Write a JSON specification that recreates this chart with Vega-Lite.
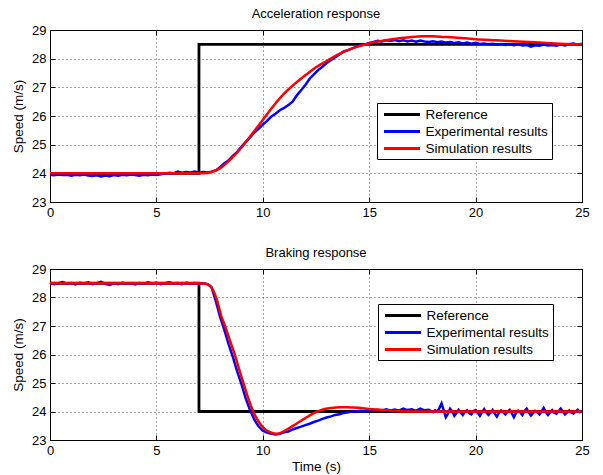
{
  "$schema": "https://vega.github.io/schema/vega-lite/v6.json",
  "background": "white",
  "padding": {"left": 11, "right": 5, "top": 7, "bottom": 2},
  "spacing": 26,
  "datasets": {
    "accRef": [{"i":0,"t":0,"v":24},{"i":1,"t":7,"v":24},{"i":2,"t":7,"v":28.5},{"i":3,"t":25,"v":28.5}],
    "brkRef": [{"i":0,"t":0,"v":28.5},{"i":1,"t":7,"v":28.5},{"i":2,"t":7,"v":24},{"i":3,"t":25,"v":24}],
    "accSim": [{"t":0,"v":24},{"t":7,"v":24},{"t":7.25,"v":24.005},{"t":7.5,"v":24.03},{"t":8,"v":24.18},{"t":8.5,"v":24.5},{"t":9,"v":24.9},{"t":9.5,"v":25.38},{"t":10,"v":25.86},{"t":10.5,"v":26.35},{"t":11,"v":26.78},{"t":11.5,"v":27.12},{"t":12,"v":27.42},{"t":12.5,"v":27.7},{"t":13,"v":27.92},{"t":13.5,"v":28.13},{"t":14,"v":28.3},{"t":14.5,"v":28.43},{"t":15,"v":28.53},{"t":15.5,"v":28.61},{"t":16,"v":28.67},{"t":16.5,"v":28.72},{"t":17,"v":28.76},{"t":17.5,"v":28.78},{"t":18,"v":28.78},{"t":18.5,"v":28.76},{"t":19,"v":28.74},{"t":19.5,"v":28.71},{"t":20,"v":28.68},{"t":21,"v":28.64},{"t":22,"v":28.6},{"t":23,"v":28.56},{"t":24,"v":28.52},{"t":25,"v":28.5}],
    "brkSim": [{"t":0,"v":28.5},{"t":7,"v":28.5},{"t":7.25,"v":28.49},{"t":7.5,"v":28.43},{"t":7.7,"v":28.2},{"t":7.85,"v":27.9},{"t":8.05,"v":27.35},{"t":8.25,"v":26.95},{"t":8.45,"v":26.5},{"t":8.7,"v":25.96},{"t":8.9,"v":25.45},{"t":9.1,"v":24.98},{"t":9.3,"v":24.5},{"t":9.55,"v":24.0},{"t":9.8,"v":23.65},{"t":10.1,"v":23.38},{"t":10.4,"v":23.26},{"t":10.65,"v":23.22},{"t":10.9,"v":23.27},{"t":11.1,"v":23.35},{"t":11.6,"v":23.58},{"t":12,"v":23.77},{"t":12.4,"v":23.94},{"t":12.8,"v":24.06},{"t":13.2,"v":24.12},{"t":13.6,"v":24.15},{"t":14,"v":24.15},{"t":14.5,"v":24.13},{"t":15,"v":24.09},{"t":15.5,"v":24.06},{"t":16,"v":24.03},{"t":16.5,"v":24.01},{"t":17,"v":24.0},{"t":25,"v":24.0}],
    "accExp": [{"t":0.0,"v":23.95},{"t":0.2,"v":23.93},{"t":0.4,"v":23.96},{"t":0.6,"v":23.94},{"t":0.8,"v":23.95},{"t":1.0,"v":23.92},{"t":1.2,"v":23.95},{"t":1.4,"v":23.93},{"t":1.6,"v":23.96},{"t":1.8,"v":23.92},{"t":2.0,"v":23.91},{"t":2.2,"v":23.93},{"t":2.4,"v":23.89},{"t":2.6,"v":23.92},{"t":2.8,"v":23.9},{"t":3.0,"v":23.94},{"t":3.2,"v":23.92},{"t":3.4,"v":23.95},{"t":3.6,"v":23.93},{"t":3.8,"v":23.96},{"t":4.0,"v":23.94},{"t":4.2,"v":23.92},{"t":4.4,"v":23.95},{"t":4.6,"v":23.93},{"t":4.8,"v":23.96},{"t":5.0,"v":23.94},{"t":5.2,"v":23.97},{"t":5.4,"v":23.99},{"t":5.6,"v":24.02},{"t":5.8,"v":24.0},{"t":6.0,"v":24.06},{"t":6.2,"v":24.02},{"t":6.4,"v":24.05},{"t":6.6,"v":24.03},{"t":6.8,"v":24.06},{"t":7.0,"v":24.02},{"t":7.2,"v":24.05},{"t":7.4,"v":24.03},{"t":7.6,"v":24.06},{"t":7.8,"v":24.1},{"t":8.0,"v":24.22},{"t":8.2,"v":24.35},{"t":8.4,"v":24.46},{"t":8.6,"v":24.62},{"t":8.8,"v":24.75},{"t":9.0,"v":24.93},{"t":9.2,"v":25.1},{"t":9.4,"v":25.25},{"t":9.6,"v":25.42},{"t":9.8,"v":25.55},{"t":10.0,"v":25.7},{"t":10.2,"v":25.83},{"t":10.4,"v":25.98},{"t":10.6,"v":26.08},{"t":10.8,"v":26.2},{"t":11.0,"v":26.28},{"t":11.2,"v":26.38},{"t":11.4,"v":26.5},{"t":11.6,"v":26.72},{"t":11.8,"v":26.9},{"t":12.0,"v":27.08},{"t":12.2,"v":27.3},{"t":12.4,"v":27.45},{"t":12.6,"v":27.6},{"t":12.8,"v":27.72},{"t":13.0,"v":27.85},{"t":13.2,"v":27.95},{"t":13.4,"v":28.05},{"t":13.6,"v":28.15},{"t":13.8,"v":28.25},{"t":14.0,"v":28.3},{"t":14.2,"v":28.36},{"t":14.4,"v":28.42},{"t":14.6,"v":28.47},{"t":14.8,"v":28.5},{"t":15.0,"v":28.55},{"t":15.2,"v":28.58},{"t":15.4,"v":28.62},{"t":15.6,"v":28.6},{"t":15.8,"v":28.64},{"t":16.0,"v":28.62},{"t":16.2,"v":28.65},{"t":16.4,"v":28.61},{"t":16.6,"v":28.64},{"t":16.8,"v":28.6},{"t":17.0,"v":28.63},{"t":17.2,"v":28.59},{"t":17.4,"v":28.63},{"t":17.6,"v":28.6},{"t":17.8,"v":28.58},{"t":18.0,"v":28.61},{"t":18.2,"v":28.57},{"t":18.4,"v":28.6},{"t":18.6,"v":28.56},{"t":18.8,"v":28.58},{"t":19.0,"v":28.55},{"t":19.2,"v":28.57},{"t":19.4,"v":28.53},{"t":19.6,"v":28.56},{"t":19.8,"v":28.52},{"t":20.0,"v":28.55},{"t":20.2,"v":28.51},{"t":20.4,"v":28.53},{"t":20.6,"v":28.5},{"t":20.8,"v":28.52},{"t":21.0,"v":28.49},{"t":21.2,"v":28.51},{"t":21.4,"v":28.48},{"t":21.6,"v":28.5},{"t":21.8,"v":28.47},{"t":22.0,"v":28.5},{"t":22.2,"v":28.46},{"t":22.4,"v":28.48},{"t":22.6,"v":28.42},{"t":22.8,"v":28.47},{"t":23.0,"v":28.45},{"t":23.2,"v":28.49},{"t":23.4,"v":28.46},{"t":23.6,"v":28.48},{"t":23.8,"v":28.45},{"t":24.0,"v":28.49},{"t":24.2,"v":28.46},{"t":24.4,"v":28.5},{"t":24.6,"v":28.53},{"t":24.8,"v":28.49},{"t":25.0,"v":28.52}],
    "brkExp": [{"t":0.0,"v":28.52},{"t":0.2,"v":28.47},{"t":0.4,"v":28.5},{"t":0.6,"v":28.54},{"t":0.8,"v":28.48},{"t":1.0,"v":28.51},{"t":1.2,"v":28.46},{"t":1.4,"v":28.52},{"t":1.6,"v":28.49},{"t":1.8,"v":28.53},{"t":2.0,"v":28.47},{"t":2.2,"v":28.5},{"t":2.4,"v":28.55},{"t":2.6,"v":28.48},{"t":2.8,"v":28.44},{"t":3.0,"v":28.5},{"t":3.2,"v":28.47},{"t":3.4,"v":28.52},{"t":3.6,"v":28.48},{"t":3.8,"v":28.5},{"t":4.0,"v":28.46},{"t":4.2,"v":28.51},{"t":4.4,"v":28.48},{"t":4.6,"v":28.53},{"t":4.8,"v":28.49},{"t":5.0,"v":28.52},{"t":5.2,"v":28.47},{"t":5.4,"v":28.5},{"t":5.6,"v":28.53},{"t":5.8,"v":28.49},{"t":6.0,"v":28.51},{"t":6.2,"v":28.47},{"t":6.4,"v":28.52},{"t":6.6,"v":28.49},{"t":6.8,"v":28.51},{"t":7.0,"v":28.48},{"t":7.2,"v":28.5},{"t":7.4,"v":28.47},{"t":7.6,"v":28.35},{"t":7.8,"v":27.85},{"t":8.0,"v":27.3},{"t":8.2,"v":26.85},{"t":8.4,"v":26.35},{"t":8.6,"v":25.9},{"t":8.8,"v":25.4},{"t":9.0,"v":24.95},{"t":9.2,"v":24.45},{"t":9.4,"v":24.05},{"t":9.6,"v":23.72},{"t":9.8,"v":23.48},{"t":10.0,"v":23.33},{"t":10.2,"v":23.26},{"t":10.4,"v":23.22},{"t":10.6,"v":23.19},{"t":10.8,"v":23.22},{"t":11.0,"v":23.27},{"t":11.2,"v":23.3},{"t":11.4,"v":23.37},{"t":11.6,"v":23.42},{"t":11.8,"v":23.47},{"t":12.0,"v":23.52},{"t":12.2,"v":23.57},{"t":12.4,"v":23.63},{"t":12.6,"v":23.68},{"t":12.8,"v":23.74},{"t":13.0,"v":23.79},{"t":13.2,"v":23.83},{"t":13.4,"v":23.88},{"t":13.6,"v":23.9},{"t":13.8,"v":23.95},{"t":14.0,"v":23.97},{"t":14.2,"v":24.0},{"t":14.4,"v":24.01},{"t":14.6,"v":24.03},{"t":14.8,"v":24.0},{"t":15.0,"v":24.04},{"t":15.2,"v":24.02},{"t":15.4,"v":24.06},{"t":15.6,"v":24.03},{"t":15.8,"v":24.08},{"t":16.0,"v":24.04},{"t":16.2,"v":24.07},{"t":16.4,"v":24.03},{"t":16.6,"v":24.1},{"t":16.8,"v":24.05},{"t":17.0,"v":24.08},{"t":17.2,"v":24.02},{"t":17.4,"v":24.1},{"t":17.6,"v":24.04},{"t":17.8,"v":24.06},{"t":18.0,"v":23.98},{"t":18.1,"v":24.04},{"t":18.2,"v":24.0},{"t":18.3,"v":24.12},{"t":18.4,"v":24.28},{"t":18.5,"v":24.05},{"t":18.6,"v":23.8},{"t":18.7,"v":23.92},{"t":18.8,"v":24.1},{"t":18.9,"v":24.0},{"t":19.0,"v":23.85},{"t":19.1,"v":23.95},{"t":19.2,"v":24.06},{"t":19.3,"v":23.96},{"t":19.4,"v":23.88},{"t":19.5,"v":24.0},{"t":19.6,"v":24.04},{"t":19.7,"v":23.94},{"t":19.8,"v":23.9},{"t":19.9,"v":24.02},{"t":20.0,"v":24.05},{"t":20.1,"v":23.96},{"t":20.2,"v":23.85},{"t":20.3,"v":23.98},{"t":20.4,"v":24.08},{"t":20.5,"v":23.97},{"t":20.6,"v":23.88},{"t":20.7,"v":23.95},{"t":20.8,"v":24.05},{"t":20.9,"v":23.93},{"t":21.0,"v":23.82},{"t":21.1,"v":23.96},{"t":21.2,"v":24.04},{"t":21.3,"v":23.98},{"t":21.4,"v":23.9},{"t":21.5,"v":24.0},{"t":21.6,"v":24.06},{"t":21.7,"v":23.94},{"t":21.8,"v":23.8},{"t":21.9,"v":23.95},{"t":22.0,"v":24.03},{"t":22.1,"v":23.97},{"t":22.2,"v":23.88},{"t":22.3,"v":24.02},{"t":22.4,"v":24.1},{"t":22.5,"v":23.96},{"t":22.6,"v":23.86},{"t":22.7,"v":23.94},{"t":22.8,"v":24.02},{"t":22.9,"v":23.97},{"t":23.0,"v":23.9},{"t":23.1,"v":24.0},{"t":23.2,"v":24.12},{"t":23.3,"v":23.98},{"t":23.4,"v":23.88},{"t":23.5,"v":23.97},{"t":23.6,"v":24.05},{"t":23.7,"v":23.96},{"t":23.8,"v":23.92},{"t":23.9,"v":24.01},{"t":24.0,"v":24.1},{"t":24.1,"v":23.99},{"t":24.2,"v":23.9},{"t":24.3,"v":23.97},{"t":24.4,"v":24.04},{"t":24.5,"v":23.97},{"t":24.6,"v":23.93},{"t":24.7,"v":24.0},{"t":24.8,"v":24.06},{"t":24.9,"v":23.98},{"t":25.0,"v":24.0}]
  },
  "vconcat": [
    {
      "width": 532,
      "height": 172,
      "title": {"text": "Acceleration response"},
      "layer": [
        {
          "data": {"name": "accRef"},
          "mark": {"type": "line", "strokeWidth": 2.8},
          "encoding": {
            "x": {"field": "t", "type": "quantitative", "scale": {"domain": [0, 25], "nice": false}, "axis": {"orient": "bottom", "values": [0, 5, 10, 15, 20, 25], "grid": true, "title": null}},
            "y": {"field": "v", "type": "quantitative", "scale": {"domain": [23, 29], "nice": false, "zero": false}, "axis": {"orient": "left", "values": [23, 24, 25, 26, 27, 28, 29], "grid": true, "title": "Speed (m/s)"}},
            "order": {"field": "i", "type": "quantitative"},
            "color": {"datum": "Reference", "type": "nominal", "scale": {"domain": ["Reference", "Experimental results", "Simulation results"], "range": ["#000000", "#0000ff", "#ff0000"]}, "legend": {"legendX": 327, "legendY": 73}}
          }
        },
        {
          "data": {"name": "accExp"},
          "mark": {"type": "line", "strokeWidth": 2.5},
          "encoding": {
            "x": {"field": "t", "type": "quantitative", "axis": null},
            "y": {"field": "v", "type": "quantitative", "axis": null},
            "color": {"datum": "Experimental results", "type": "nominal"}
          }
        },
        {
          "data": {"name": "accSim"},
          "mark": {"type": "line", "strokeWidth": 2.5, "interpolate": "monotone"},
          "encoding": {
            "x": {"field": "t", "type": "quantitative", "axis": {"orient": "top", "values": [0, 5, 10, 15, 20, 25], "labels": false, "grid": false, "title": null}},
            "y": {"field": "v", "type": "quantitative", "axis": {"orient": "right", "values": [23, 24, 25, 26, 27, 28, 29], "labels": false, "grid": false, "title": null}},
            "color": {"datum": "Simulation results", "type": "nominal"}
          }
        }
      ],
      "resolve": {"axis": {"x": "independent", "y": "independent"}}
    },
    {
      "width": 532,
      "height": 171,
      "title": {"text": "Braking response"},
      "layer": [
        {
          "data": {"name": "brkRef"},
          "mark": {"type": "line", "strokeWidth": 2.8},
          "encoding": {
            "x": {"field": "t", "type": "quantitative", "scale": {"domain": [0, 25], "nice": false}, "axis": {"orient": "bottom", "values": [0, 5, 10, 15, 20, 25], "grid": true, "title": "Time (s)", "titlePadding": 2}},
            "y": {"field": "v", "type": "quantitative", "scale": {"domain": [23, 29], "nice": false, "zero": false}, "axis": {"orient": "left", "values": [23, 24, 25, 26, 27, 28, 29], "grid": true, "title": "Speed (m/s)"}},
            "order": {"field": "i", "type": "quantitative"},
            "color": {"datum": "Reference", "type": "nominal", "scale": {"domain": ["Reference", "Experimental results", "Simulation results"], "range": ["#000000", "#0000ff", "#ff0000"]}, "legend": {"legendX": 328, "legendY": 35}}
          }
        },
        {
          "data": {"name": "brkExp"},
          "mark": {"type": "line", "strokeWidth": 2.5},
          "encoding": {
            "x": {"field": "t", "type": "quantitative", "axis": null},
            "y": {"field": "v", "type": "quantitative", "axis": null},
            "color": {"datum": "Experimental results", "type": "nominal"}
          }
        },
        {
          "data": {"name": "brkSim"},
          "mark": {"type": "line", "strokeWidth": 2.5, "interpolate": "monotone"},
          "encoding": {
            "x": {"field": "t", "type": "quantitative", "axis": {"orient": "top", "values": [0, 5, 10, 15, 20, 25], "labels": false, "grid": false, "title": null}},
            "y": {"field": "v", "type": "quantitative", "axis": {"orient": "right", "values": [23, 24, 25, 26, 27, 28, 29], "labels": false, "grid": false, "title": null}},
            "color": {"datum": "Simulation results", "type": "nominal"}
          }
        }
      ],
      "resolve": {"axis": {"x": "independent", "y": "independent"}}
    }
  ],
  "resolve": {"scale": {"color": "independent"}, "legend": {"color": "independent"}},
  "config": {
    "font": "Liberation Sans",
    "view": {"stroke": "black", "strokeWidth": 1},
    "title": {"fontSize": 13, "fontWeight": "normal", "color": "black", "offset": 3, "font": "Liberation Sans"},
    "axis": {
      "labelFont": "Liberation Sans",
      "labelFontSize": 13,
      "labelColor": "black",
      "labelFlush": false,
      "labelPadding": 9,
      "titleFont": "Liberation Sans",
      "titleFontSize": 13.5,
      "titleFontWeight": "normal",
      "titleColor": "black",
      "titlePadding": 6,
      "domainColor": "black",
      "tickColor": "black",
      "tickSize": -5,
      "gridColor": "#555555",
      "gridDash": [1, 3],
      "gridOpacity": 1,
      "gridWidth": 1
    },
    "legend": {
      "orient": "none",
      "title": null,
      "strokeColor": "black",
      "fillColor": "white",
      "padding": 4,
      "symbolType": "M-3,0H3",
      "symbolSize": 144,
      "symbolStrokeWidth": 3,
      "symbolOffset": 13.5,
      "labelOffset": 16,
      "rowPadding": 3,
      "labelFont": "Liberation Sans",
      "labelFontSize": 13.5,
      "labelColor": "black"
    }
  }
}
